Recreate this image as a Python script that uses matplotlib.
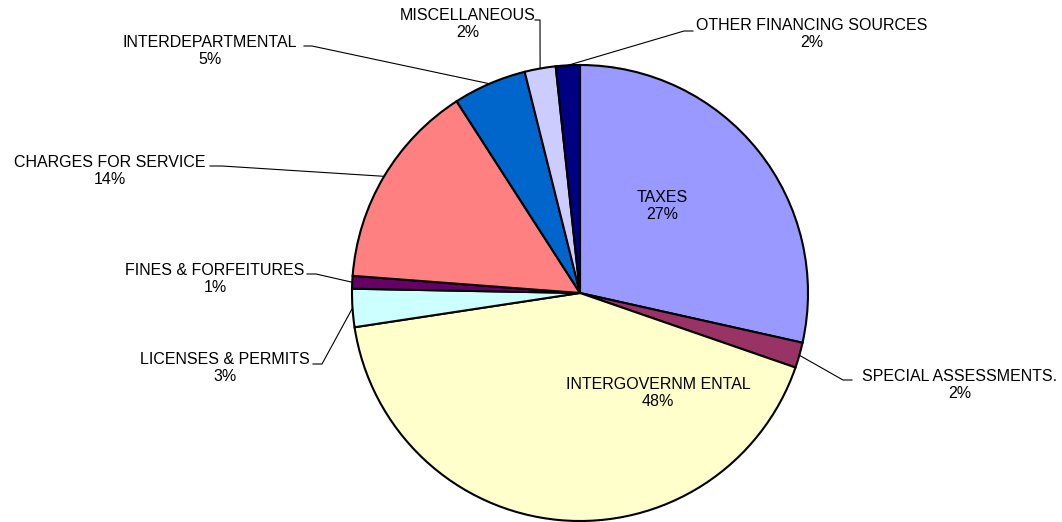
import numpy as np
import matplotlib
matplotlib.use('Agg')
import matplotlib.pyplot as plt

plt.rcParams['font.family'] = ['Liberation Sans', 'DejaVu Sans']

# slices, clockwise from 12 o'clock (share of the pie)
categories = ['TAXES', 'SPECIAL ASSESSMENTS.', 'INTERGOVERNM ENTAL', 'LICENSES & PERMITS',
              'FINES & FORFEITURES', 'CHARGES FOR SERVICE', 'INTERDEPARTMENTAL',
              'MISCELLANEOUS', 'OTHER FINANCING SOURCES']
values = [28.5, 1.8, 42.3, 2.7, 0.9, 14.7, 5.2, 2.2, 1.7]
pct_labels = ['27%', '2%', '48%', '3%', '1%', '14%', '5%', '2%', '2%']
colors = ['#9999FF', '#993366', '#FFFFCC', '#CCFFFF', '#660066',
          '#FF8080', '#0066CC', '#CCCCFF', '#000080']

W, H = 1062, 522
fig = plt.figure(figsize=(W / 100, H / 100), dpi=100)
ax = fig.add_axes([0, 0, 1, 1])

def px(x, y):
    # pixel position (y from top) -> data coords
    return x, H - y

cx, cy = px(580, 293)
R = 228
wedges, _ = ax.pie(values, colors=colors, startangle=90, counterclock=False,
                   center=(cx, cy), radius=R, frame=True,
                   wedgeprops=dict(edgecolor='black', linewidth=1.5))
ax.set_xlim(0, W)
ax.set_ylim(0, H)
ax.axis('off')

fs = 11.5
# labels inside the pie
inside = {0: (662, 206), 2: (658, 393)}
for i, (x, y) in inside.items():
    ax.text(*px(x, y), categories[i] + '\n' + pct_labels[i], ha='center', va='center',
            fontsize=fs, linespacing=1.15)

# outside labels: text centre, elbow start, elbow end
outside = {
    1: ((960, 385), (852, 380), (843, 380)),
    3: ((225, 368), (313, 364), (322, 364)),
    4: ((215, 279), (307, 274), (316, 274)),
    5: ((110, 171), (210, 166), (222, 166)),
    6: ((210, 51), (304, 46), (312, 46)),
    7: ((468, 24), (535, 20), (540, 20)),
    8: ((812, 34), (693, 31), (684, 31)),
}
for i, (tpos, e0, e1) in outside.items():
    ax.text(*px(*tpos), categories[i] + '\n' + pct_labels[i], ha='center', va='center',
            fontsize=fs, linespacing=1.15)
    w = wedges[i]
    mid = np.deg2rad((w.theta1 + w.theta2) / 2)
    ex, ey = cx + R * np.cos(mid), cy + R * np.sin(mid)
    x0, y0 = px(*e0)
    x1, y1 = px(*e1)
    ax.plot([x0, x1, ex], [y0, y1, ey], color='black', linewidth=0.8)

fig.savefig('out.png', dpi=100, facecolor='white')
